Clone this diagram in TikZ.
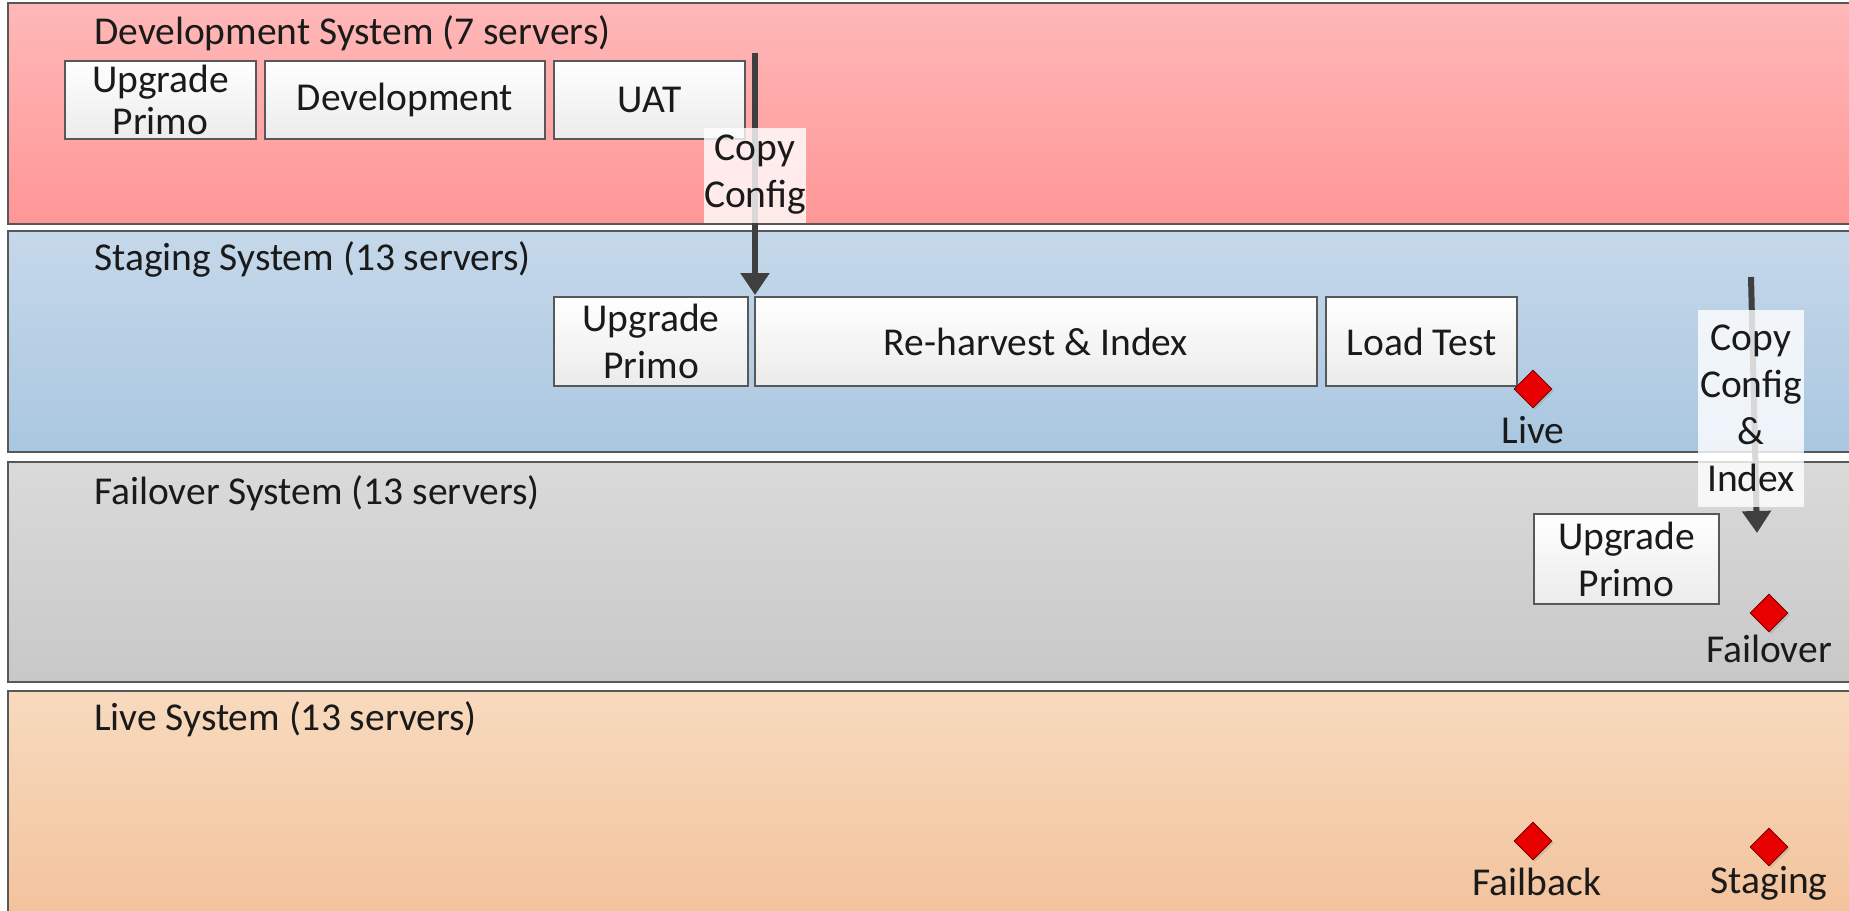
\documentclass[tikz,border=0pt]{standalone}
\usepackage{fontspec}
\setmainfont{Carlito}
\usetikzlibrary{shapes.geometric,arrows.meta,shadows}
\definecolor{devtop}{HTML}{FFB8B8}
\definecolor{devbot}{HTML}{FF9696}
\definecolor{stgtop}{HTML}{C6D8EA}
\definecolor{stgbot}{HTML}{A9C7E0}
\definecolor{fotop}{HTML}{DADADA}
\definecolor{fobot}{HTML}{C8C8C8}
\definecolor{livetop}{HTML}{F8DABE}
\definecolor{livebot}{HTML}{F2C29B}
\definecolor{edgec}{HTML}{585858}
\definecolor{txtc}{HTML}{1A1A1A}
\definecolor{arrc}{HTML}{3F3F3F}
\definecolor{dred}{HTML}{E80000}
\definecolor{boxbot}{HTML}{EBEBEB}
\begin{document}
\begin{tikzpicture}[x=1pt,y=-1pt,
  font=\fontsize{39.5}{47}\selectfont,
  band/.style={draw=edgec, line width=2pt},
  title/.style={anchor=west, inner sep=0pt, text=txtc},
  stepbox/.style={draw=edgec, line width=1.5pt, top color=white, bottom color=boxbot,
    align=center, inner sep=0pt, text=txtc},
  marker/.style={diamond, fill=dred, draw=red!40!black, line width=0.6pt,
    minimum size=38pt, inner sep=0pt, aspect=1,
    drop shadow={shadow xshift=2pt, shadow yshift=-2pt, opacity=0.25}},
  mlabel/.style={inner sep=0pt, text=txtc},
  flow/.style={draw=arrc, line width=6pt, -{Triangle[width=28pt,length=22pt]}},
  lbl/.style={fill=white, fill opacity=0.8, text opacity=1, align=center,
    inner sep=0pt, text=txtc}]
\useasboundingbox (0,0) rectangle (1849,910);
% bands
\path[band, top color=devtop, bottom color=devbot] (8,3) rectangle (1875,224);
\path[band, top color=stgtop, bottom color=stgbot] (8,231) rectangle (1875,452);
\path[band, top color=fotop, bottom color=fobot] (8,462) rectangle (1875,682);
\path[band, top color=livetop, bottom color=livebot] (8,691) rectangle (1875,925);
% titles
\node[title] (tdev) at (94,33) {Development System (7 servers)};
\node[title] (tstg) at (94,259) {Staging System (13 servers)};
\node[title] (tfo) at (94,493) {Failover System (13 servers)};
\node[title] (tlive) at (94,719) {Live System (13 servers)};
% development boxes
\node[stepbox, minimum width=191pt, minimum height=78pt,
  font=\fontsize{39.5}{42}\selectfont] (dup) at (160.5,100) {Upgrade\\Primo};
\node[stepbox, minimum width=280pt, minimum height=78pt] (ddev) at (405,100) {Development};
\node[stepbox, minimum width=191pt, minimum height=78pt] (duat) at (649.5,100) {UAT};
% staging boxes
\node[stepbox, minimum width=194pt, minimum height=89pt] (sup) at (651,341.5) {Upgrade\\Primo};
\node[stepbox, minimum width=562pt, minimum height=89pt] (sre) at (1036,341.5) {Re-harvest \& Index};
\node[stepbox, minimum width=191pt, minimum height=89pt] (slt) at (1421.5,341.5) {Load Test};
% failover box
\node[stepbox, minimum width=185pt, minimum height=90pt] (fup) at (1626.5,559) {Upgrade\\Primo};
% arrows
\coordinate (a1s) at (755,53);
\coordinate (a1e) at (755,295);
\coordinate (a2s) at (1751,277);
\coordinate (a2e) at (1757,533);
\draw[flow] (a1s) -- (a1e);
\draw[flow] (a2s) -- (a2e);
\node[lbl, minimum width=101pt, minimum height=95pt] (cc1) at (755,175) {Copy\\Config};
\node[lbl, minimum width=106pt, minimum height=197pt] (cc2) at (1751,408) {Copy\\Config\\\&\\Index};
% markers
\node[marker] (mlive) at (1533,389) {};
\node[mlabel] (llive) at (1533,430) {Live};
\node[marker] (mfo) at (1769,613) {};
\node[mlabel] (lfo) at (1769,649) {Failover};
\node[marker] (mfb) at (1533,841) {};
\node[mlabel] (lfb) at (1537,882) {Failback};
\node[marker] (mst) at (1769,847) {};
\node[mlabel] (lst) at (1769,883) {Staging};
\end{tikzpicture}
\end{document}
